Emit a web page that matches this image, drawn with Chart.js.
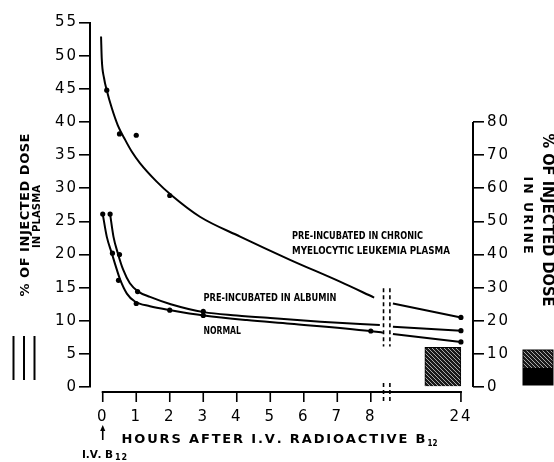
<!DOCTYPE html>
<html><head><meta charset="utf-8">
<script src="https://cdn.jsdelivr.net/npm/chart.js@4.4.0/dist/chart.umd.min.js"></script>
<style>html,body{margin:0;padding:0;background:#fff;}#wrap{width:554px;height:462px;}</style>
</head><body><div id="wrap"><canvas id="c" width="554" height="462"></canvas></div>
<script>
// ---- axis ticks ----
const hourTicks = [0, 1, 2, 3, 4, 5, 6, 7, 8, 24];
const plasmaTicks = [0, 5, 10, 15, 20, 25, 30, 35, 40, 45, 50, 55];
const urineTicks = [0, 10, 20, 30, 40, 50, 60, 70, 80];

// ---- measured points (% of injected dose in plasma) ----
const cmlHours = [0.12, 0.5, 1, 2, 24];
const cmlPlasma = [44.8, 38.2, 38.0, 28.9, 10.5];
const albuminHours = [0.22, 0.5, 1.04, 3, 24];
const albuminPlasma = [26.1, 20.0, 14.4, 11.4, 8.5];
const normalHours = [0, 0.29, 0.47, 1, 2, 3, 8, 24];
const normalPlasma = [26.1, 20.2, 16.1, 12.6, 11.6, 10.8, 8.45, 6.8];

// ---- drawn (fitted) curves ----
const cmlCurveEarlyHours = [-0.05, -0.03, 0.04, 0.12, 0.27, 0.45, 0.67, 0.87, 1.11, 1.61, 2.06, 2.9, 4.1, 5.59, 7.08, 8.1];
const cmlCurveEarlyPlasma = [52.9, 49.6, 46.6, 44.8, 42.1, 39.5, 37.3, 35.5, 33.8, 31.0, 28.9, 25.7, 22.7, 19.2, 15.9, 13.5];
const cmlCurveLateHours = [9, 24];
const cmlCurveLatePlasma = [12.6, 10.5];
const albuminCurveEarlyHours = [0.22, 0.32, 0.45, 0.61, 0.81, 1.06, 1.41, 2.03, 3.02, 4.0, 5.0, 6.5, 8.27];
const albuminCurveEarlyPlasma = [26.1, 22.7, 20.2, 17.7, 15.65, 14.4, 13.6, 12.5, 11.3, 10.8, 10.4, 9.85, 9.36];
const albuminCurveLateHours = [9, 24];
const albuminCurveLatePlasma = [9.1, 8.5];
const normalCurveEarlyHours = [0, 0.12, 0.27, 0.39, 0.52, 0.72, 0.96, 1.41, 2.03, 3.02, 4.3, 5.6, 7.98, 8.36];
const normalCurveEarlyPlasma = [26.1, 22.7, 20.2, 18.2, 16.2, 14.1, 12.9, 12.2, 11.6, 10.8, 10.1, 9.55, 8.45, 8.2];
const normalCurveLateHours = [9, 24];
const normalCurveLatePlasma = [8.0, 6.8];

// ---- urine (right axis) ----
const urineHours = [24];
const urinePercent = [12];

// broken time axis: 0-8 h linear, then a break, then 24 h
const BREAK_AT = 8.5, LATE_START = 8.66, LATE_END = 10.69;
function toAxis(h) { return h <= BREAK_AT ? h : LATE_START + (h - 9) * (LATE_END - LATE_START) / (24 - 9); }
function pts(hs, vs) { return hs.map((h, i) => ({ x: toAxis(h), y: vs[i] })); }
function curve(h1, v1, h2, v2) { return pts(h1, v1).concat([{ x: BREAK_AT, y: null }], pts(h2, v2)); }

function hatchPattern() {
  const c = document.createElement('canvas'); c.width = 4; c.height = 4;
  const g = c.getContext('2d');
  g.fillStyle = '#1a1a1a'; g.fillRect(0, 0, 4, 4);
  g.strokeStyle = '#d0d0d0'; g.lineWidth = 0.8;
  g.beginPath(); g.moveTo(0, 0); g.lineTo(4, 4); g.moveTo(-1, 3); g.lineTo(1, 5); g.moveTo(3, -1); g.lineTo(5, 1); g.stroke();
  return g.createPattern(c, 'repeat');
}
const HATCH = hatchPattern();

// draw text fitted to a width: letter-spaced if short, horizontally condensed if long
function fitText(ctx, text, x0, y0, width, align) {
  const natural = ctx.measureText(text).width;
  const left = align === 'center' ? x0 - width / 2 : x0;
  ctx.textAlign = 'left';
  if (natural >= width) {
    ctx.save(); ctx.translate(left, y0); ctx.scale(width / natural, 1); ctx.fillText(text, 0, 0); ctx.restore();
    return;
  }
  const chars = [...text];
  const nat = chars.reduce((s, c) => s + ctx.measureText(c).width, 0);
  const sp = chars.length > 1 ? (width - nat) / (chars.length - 1) : 0;
  let x = left;
  chars.forEach(c => { ctx.fillText(c, x, y0); x += ctx.measureText(c).width + sp; });
}

const lineStyle = { borderColor: '#000', borderWidth: 2, pointRadius: 0, fill: false, cubicInterpolationMode: 'monotone', spanGaps: false, yAxisID: 'y' };
const dotStyle = { showLine: false, pointRadius: 2.6, pointHoverRadius: 2.6, pointBackgroundColor: '#000', pointBorderWidth: 0, borderColor: '#000', yAxisID: 'y' };

const extras = {
  id: 'extras',
  beforeDraw(chart) { chart.ctx.letterSpacing = '2px'; },
  beforeDatasetsDraw(chart) { chart.ctx.letterSpacing = '0px'; },
  afterDraw(chart) {
    const { ctx, chartArea: a, scales: { x, y, y2 } } = chart;
    ctx.save();
    ctx.letterSpacing = '0px';
    ctx.strokeStyle = '#000'; ctx.fillStyle = '#000';
    // right axis line 0..80
    ctx.lineWidth = 2;
    ctx.beginPath(); ctx.moveTo(a.right, y2.getPixelForValue(0)); ctx.lineTo(a.right, y2.getPixelForValue(80)); ctx.stroke();
    // x axis, offset below the plot
    const ay = a.bottom + 5;
    const xs = x.getPixelForValue(toAxis(0)), xe = x.getPixelForValue(toAxis(24));
    ctx.beginPath(); ctx.moveTo(xs - 1, ay); ctx.lineTo(xe + 1, ay); ctx.stroke();
    ctx.lineWidth = 1.6;
    hourTicks.forEach(h => { const px = x.getPixelForValue(toAxis(h)); ctx.beginPath(); ctx.moveTo(px, ay); ctx.lineTo(px, ay + 10); ctx.stroke(); });
    // break marks
    ctx.setLineDash([4, 3]); ctx.lineWidth = 1.6;
    [8.38, 8.57].forEach(v => {
      const px = x.getPixelForValue(v);
      ctx.beginPath(); ctx.moveTo(px, y.getPixelForValue(14.9)); ctx.lineTo(px, y.getPixelForValue(6.1)); ctx.stroke();
      ctx.beginPath(); ctx.moveTo(px, ay - 9); ctx.lineTo(px, ay + 10); ctx.stroke();
    });
    ctx.setLineDash([]);
    // curve labels
    ctx.textBaseline = 'middle';
    ctx.font = 'bold 11px "DejaVu Sans"';
    fitText(ctx, 'PRE-INCUBATED IN CHRONIC', 292, 236, 131, 'left');
    fitText(ctx, 'MYELOCYTIC LEUKEMIA PLASMA', 292, 251.5, 158, 'left');
    fitText(ctx, 'PRE-INCUBATED IN ALBUMIN', 203.5, 298.5, 133, 'left');
    fitText(ctx, 'NORMAL', 203.5, 331.5, 37.5, 'left');
    // left title
    ctx.save(); ctx.translate(25.5, 215); ctx.rotate(-Math.PI / 2);
    ctx.font = 'bold 13px "DejaVu Sans"'; fitText(ctx, '% OF INJECTED DOSE', 0, 0, 163, 'center');
    ctx.restore();
    ctx.save(); ctx.translate(37.5, 216.5); ctx.rotate(-Math.PI / 2);
    ctx.font = 'bold 10px "DejaVu Sans"'; fitText(ctx, 'IN PLASMA', 0, 0, 63, 'center');
    ctx.restore();
    // right title
    ctx.save(); ctx.translate(546.5, 220); ctx.rotate(Math.PI / 2);
    ctx.font = 'bold 15px "DejaVu Sans"'; fitText(ctx, '% OF INJECTED DOSE', 0, 0, 173, 'center');
    ctx.restore();
    ctx.save(); ctx.translate(527.5, 215); ctx.rotate(Math.PI / 2);
    ctx.font = 'bold 12.5px "DejaVu Sans"'; fitText(ctx, 'IN URINE', 0, 0, 77, 'center');
    ctx.restore();
    // x title
    ctx.font = 'bold 13px "DejaVu Sans"';
    fitText(ctx, 'HOURS AFTER I.V. RADIOACTIVE B', 121.5, 440, 304, 'left');
    ctx.font = 'bold 8.5px "DejaVu Sans"'; fitText(ctx, '12', 427.5, 444, 10, 'left');
    // injection marker
    const ix = x.getPixelForValue(toAxis(0));
    ctx.lineWidth = 1.6;
    ctx.beginPath(); ctx.moveTo(ix, 440); ctx.lineTo(ix, 429); ctx.stroke();
    ctx.beginPath(); ctx.moveTo(ix, 425); ctx.lineTo(ix - 2.6, 431); ctx.lineTo(ix + 2.6, 431); ctx.closePath(); ctx.fill();
    ctx.font = 'bold 10.5px "DejaVu Sans"'; fitText(ctx, 'I.V. B', 82, 455, 31, 'left');
    ctx.font = 'bold 8px "DejaVu Sans"'; fitText(ctx, '12', 115, 458, 12, 'left');
    // legend keys
    ctx.lineWidth = 2;
    [13.5, 24, 34.5].forEach(lx => { ctx.beginPath(); ctx.moveTo(lx, 336); ctx.lineTo(lx, 380); ctx.stroke(); });
    ctx.fillStyle = HATCH; ctx.fillRect(523, 350, 30, 18);
    ctx.fillStyle = '#000'; ctx.fillRect(523, 368, 30, 17);
    ctx.lineWidth = 1; ctx.strokeRect(523, 350, 30, 35);
    ctx.restore();
  }
};

new Chart(document.getElementById('c'), {
  type: 'line',
  data: {
    datasets: [
      Object.assign({ label: 'CML curve', data: curve(cmlCurveEarlyHours, cmlCurveEarlyPlasma, cmlCurveLateHours, cmlCurveLatePlasma) }, lineStyle),
      Object.assign({ label: 'Albumin curve', data: curve(albuminCurveEarlyHours, albuminCurveEarlyPlasma, albuminCurveLateHours, albuminCurveLatePlasma) }, lineStyle),
      Object.assign({ label: 'Normal curve', data: curve(normalCurveEarlyHours, normalCurveEarlyPlasma, normalCurveLateHours, normalCurveLatePlasma) }, lineStyle),
      Object.assign({ label: 'CML', data: pts(cmlHours, cmlPlasma) }, dotStyle),
      Object.assign({ label: 'Albumin', data: pts(albuminHours, albuminPlasma) }, dotStyle),
      Object.assign({ label: 'Normal', data: pts(normalHours, normalPlasma) }, dotStyle),
      { type: 'bar', label: 'Urine', yAxisID: 'y2', data: urineHours.map((h, i) => ({ x: toAxis(h) - 0.54, y: urinePercent[i] })),
        backgroundColor: HATCH, borderColor: '#000', borderWidth: 1, barThickness: 36 }
    ]
  },
  options: {
    responsive: false, animation: false, devicePixelRatio: 1,
    layout: { padding: { top: 22.6, left: 0, right: 0, bottom: 0 } },
    plugins: { legend: { display: false }, tooltip: { enabled: false } },
    scales: {
      x: {
        type: 'linear', min: -0.38, max: 11.05, offset: false,
        afterBuildTicks: s => { s.ticks = hourTicks.map(h => ({ value: toAxis(h) })); },
        afterFit: s => { s.height = 75; },
        grid: { display: false, drawTicks: false, offset: false }, border: { display: false },
        ticks: { autoSkip: false, maxRotation: 0, padding: 21, color: '#000', font: { family: 'DejaVu Sans', size: 15 },
          callback: (v, i) => hourTicks[i] }
      },
      y: {
        position: 'left', min: 0, max: 55,
        afterBuildTicks: s => { s.ticks = plasmaTicks.map(v => ({ value: v })); },
        afterFit: s => { s.width = 90; },
        grid: { drawOnChartArea: false, tickLength: 11, color: '#000', lineWidth: 1.6 },
        border: { display: true, color: '#000', width: 2 },
        ticks: { padding: 1, color: '#000', font: { family: 'DejaVu Sans', size: 15 } }
      },
      y2: {
        position: 'right', min: 0, max: 110,
        afterBuildTicks: s => { s.ticks = urineTicks.map(v => ({ value: v })); },
        afterFit: s => { s.width = 81; },
        grid: { drawOnChartArea: false, tickLength: 11, color: '#000', lineWidth: 1.6 },
        border: { display: false },
        ticks: { padding: 3, color: '#000', font: { family: 'DejaVu Sans', size: 15 } }
      }
    }
  },
  plugins: [extras]
});
</script></body></html>
